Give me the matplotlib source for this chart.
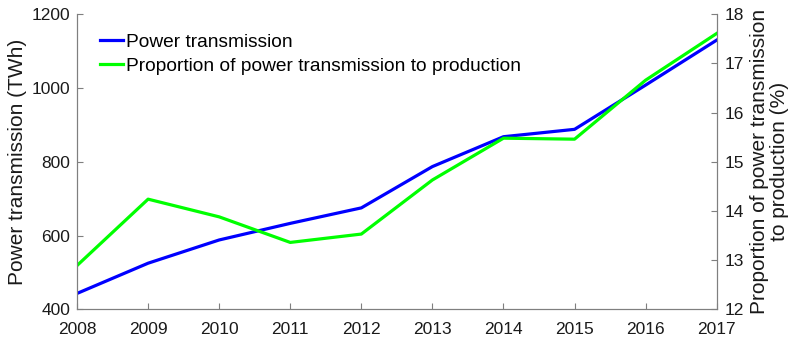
import matplotlib
matplotlib.use("Agg")
import matplotlib.pyplot as plt

plt.rcParams['font.family'] = ['Liberation Sans', 'DejaVu Sans']

years = [2008, 2009, 2010, 2011, 2012, 2013, 2014, 2015, 2016, 2017]
transmission_twh = [443, 525, 588, 633, 675, 787, 868, 888, 1008, 1130]
proportion_pct = [12.89, 14.24, 13.88, 13.36, 13.53, 14.63, 15.48, 15.46, 16.66, 17.61]

axis_color = '#7f7f7f'
text_color = '#1a1a1a'

fig = plt.figure(figsize=(7.99, 3.40), dpi=100)
ax = fig.add_axes([0.0964, 0.0903, 0.8006, 0.8677])
ax2 = ax.twinx()

l1, = ax.plot(years, transmission_twh, color='#0000ff', lw=2.3, label='Power transmission')
l2, = ax2.plot(years, proportion_pct, color='#00ff00', lw=2.3,
               label='Proportion of power transmission to production')

ax.set_xlim(2008, 2017)
ax.set_ylim(400, 1200)
ax2.set_ylim(12, 18)
ax.set_xticks(years)
ax.set_yticks([400, 600, 800, 1000, 1200])
ax2.set_yticks([12, 13, 14, 15, 16, 17, 18])

for a in (ax, ax2):
    a.spines['top'].set_visible(False)
    for s in ('left', 'right', 'bottom'):
        a.spines[s].set_color(axis_color)
        a.spines[s].set_linewidth(0.8)
    a.tick_params(direction='in', length=4, width=0.8, color=axis_color,
                  labelsize=12.5, labelcolor=text_color)
ax.tick_params(axis='x', pad=9)
ax.tick_params(axis='y', pad=5)
ax2.tick_params(axis='y', pad=6)

ax.set_ylabel('Power transmission (TWh)', fontsize=15, color=text_color, labelpad=3)
ax2.set_ylabel('Proportion of power transmission\nto production (%)', fontsize=15,
               color=text_color, labelpad=4, linespacing=1.05)

ax.legend(handles=[l1, l2], loc='upper left', frameon=False, fontsize=13.8,
          handlelength=1.2, handletextpad=0.15, borderaxespad=0, borderpad=0,
          bbox_to_anchor=(0.036, 0.936), labelspacing=0.37)

fig.savefig('out.png', dpi=100)
